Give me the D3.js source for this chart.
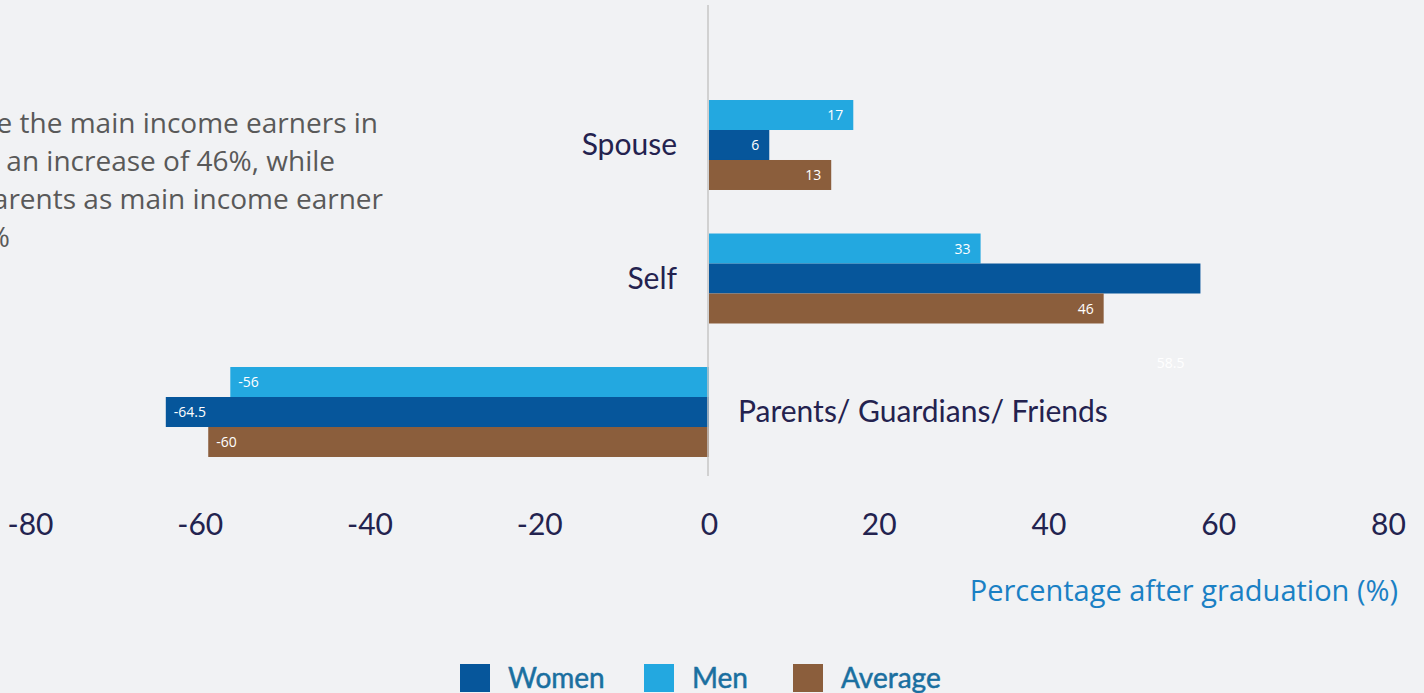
<!DOCTYPE html>
<html lang="en">
    <head>
        <meta charset="utf-8" />
        <script src="https://d3js.org/d3.v7.min.js"></script>
        <title>Main income earner after graduation</title>
        <style>
            html, body { margin: 0; padding: 0; background: #f1f2f4; overflow: hidden; }
            svg { display: block; }
        </style>
    </head>
    <body>
        <div id="container"></div>
        <script>
            // data
            const categories = ['Spouse', 'Self', 'Parents/ Guardians/ Friends'];
            const seriesNames = ['Men', 'Women', 'Average'];
            const menValues = [17, 32, -56.4];
            const womenValues = [7.1, 57.9, -64];
            const averageValues = [14.4, 46.5, -59];
            const menLabels = ['17', '33', '-56'];
            const womenLabels = ['6', '58.5', '-64.5'];
            const averageLabels = ['13', '46', '-60'];
            const xTicks = [-80, -60, -40, -20, 0, 20, 40, 60, 80];
            const legendNames = ['Women', 'Men', 'Average'];
            const noteLines = ['e the main income earners in', 'an increase of 46%, while', 'arents as main income earner', '%'];

            const width = 1424;
            const height = 693;
            const colors = { Men: '#23a8e0', Women: '#06569b', Average: '#8b5e3c' };

            const series = [
                { name: 'Men', values: menValues, labels: menLabels },
                { name: 'Women', values: womenValues, labels: womenLabels },
                { name: 'Average', values: averageValues, labels: averageLabels }
            ];

            const svg = d3.select('#container')
                .append('svg')
                .attr('width', width)
                .attr('height', height);

            svg.append('rect')
                .attr('width', width)
                .attr('height', height)
                .attr('fill', '#f1f2f4');

            const x = d3.scaleLinear()
                .domain([-80, 80])
                .range([30, 1388]);

            const y = d3.scaleBand()
                .domain(categories)
                .range([78.25, 478.75])
                .paddingInner(0.326)
                .paddingOuter(0.163);

            const ySub = d3.scaleBand()
                .domain(seriesNames)
                .range([0, y.bandwidth()]);

            // clipped note text on the left
            svg.append('g')
                .selectAll('text')
                .data(noteLines)
                .enter()
                .append('text')
                .attr('x', (d, i) => [378, 335, 383, 10][i])
                .attr('y', (d, i) => 133 + i * 38)
                .attr('text-anchor', 'end')
                .attr('fill', '#595959')
                .style('font-family', "'Open Sans', sans-serif")
                .style('font-size', '28px')
                .text(d => d);

            // bars
            const groups = svg.append('g')
                .selectAll('g')
                .data(series)
                .enter()
                .append('g');

            const rows = s => s.values.map((v, i) => ({ name: s.name, cat: categories[i], value: v, label: s.labels[i] }));

            groups.selectAll('rect')
                .data(rows)
                .enter()
                .append('rect')
                .attr('x', d => x(Math.min(0, d.value)))
                .attr('y', d => y(d.cat) + ySub(d.name))
                .attr('width', d => Math.abs(x(d.value) - x(0)))
                .attr('height', ySub.bandwidth())
                .attr('fill', d => colors[d.name]);

            // the 58.5 label sits below its bar in the original
            const stray = d => d.cat === 'Self' && d.name === 'Women';

            groups.selectAll('text')
                .data(rows)
                .enter()
                .append('text')
                .attr('x', d => d.value >= 0 ? x(d.value) - (stray(d) ? 16 : 10) : x(d.value) + 8)
                .attr('y', d => y(d.cat) + ySub(d.name) + ySub.bandwidth() / 2 + (stray(d) ? 84 : 0))
                .attr('dy', '0.36em')
                .attr('text-anchor', d => d.value >= 0 ? 'end' : 'start')
                .attr('fill', '#ffffff')
                .style('font-family', "'Open Sans', sans-serif")
                .style('font-size', '14px')
                .text(d => d.label);

            // zero line
            svg.append('line')
                .attr('x1', x(0) - 1)
                .attr('x2', x(0) - 1)
                .attr('y1', 5)
                .attr('y2', 476)
                .attr('stroke', '#c6c6c6')
                .attr('stroke-width', 1.5);

            // category labels
            svg.append('g')
                .selectAll('text')
                .data(categories)
                .enter()
                .append('text')
                .attr('x', (d, i) => menValues[i] >= 0 ? x(0) - 32 : x(0) + 29)
                .attr('y', d => y(d) + y.bandwidth() / 2 + 10)
                .attr('text-anchor', (d, i) => menValues[i] >= 0 ? 'end' : 'start')
                .attr('fill', '#24224f')
                .style('font-family', "'Lato', sans-serif")
                .style('font-size', '30px')
                .text(d => d);

            // x axis
            const xAxis = d3.axisBottom(x)
                .tickValues(xTicks)
                .tickFormat(d => String(d))
                .tickSize(0);

            const axisG = svg.append('g')
                .attr('transform', 'translate(0, 535)')
                .call(xAxis);

            axisG.select('.domain').remove();
            axisG.selectAll('text')
                .attr('y', 0)
                .attr('dy', 0)
                .attr('fill', '#23234f')
                .style('font-family', "'Lato', sans-serif")
                .style('font-size', '30px');

            svg.append('text')
                .attr('x', 1398)
                .attr('y', 601)
                .attr('text-anchor', 'end')
                .attr('fill', '#1a80c4')
                .style('font-family', "'Open Sans', sans-serif")
                .style('font-size', '29px')
                .text('Percentage after graduation (%)');

            // legend
            const legendX = [460, 644, 793];
            const legend = svg.append('g')
                .selectAll('g')
                .data(legendNames)
                .enter()
                .append('g')
                .attr('transform', (d, i) => `translate(${legendX[i]}, 664)`);

            legend.append('rect')
                .attr('width', 30)
                .attr('height', 28)
                .attr('fill', d => colors[d]);

            legend.append('text')
                .attr('x', 48)
                .attr('y', 24)
                .attr('fill', '#1a6fa0')
                .attr('stroke', '#1a6fa0')
                .attr('stroke-width', 0.5)
                .style('font-family', "'Lato', sans-serif")
                .style('font-size', '28px')
                .text(d => d);
        </script>
    </body>
</html>
